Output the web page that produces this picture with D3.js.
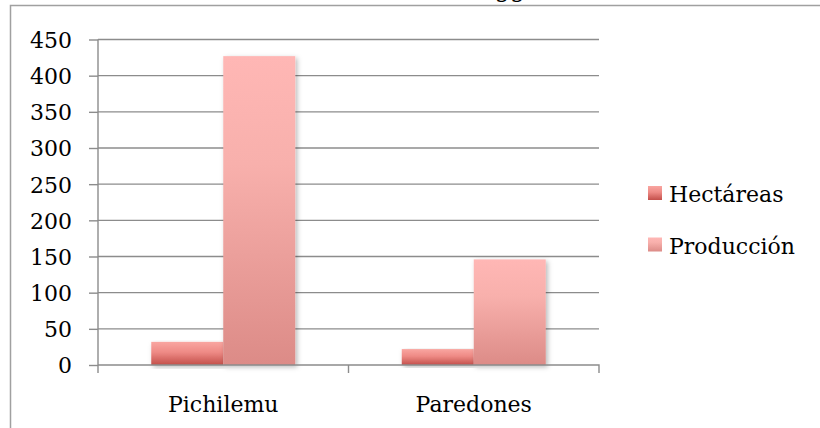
<!DOCTYPE html>
<html>
<head>
<meta charset="utf-8">
<script src="https://cdn.jsdelivr.net/npm/d3@7"></script>
<style>
  html, body { margin: 0; padding: 0; background: #fff; }
  svg { display: block; }
  text { font-family: "DejaVu Serif", serif; fill: #000; }
</style>
</head>
<body>
<svg id="chart" width="820" height="428"></svg>
<script>
// ---- data ----
const categories = ["Pichilemu", "Paredones"];
const seriesNames = ["Hectáreas", "Producción"];
const hectareas = [32, 22];
const produccion = [427, 146];
const yTicks = [0, 50, 100, 150, 200, 250, 300, 350, 400, 450];
const titleVisible = "gg";

const svg = d3.select("#chart");
const W = 820, H = 428;
const plot = { left: 98, right: 599, top: 39.5, bottom: 365 };

// defs: gradients + shadow
const defs = svg.append("defs");
const g1 = defs.append("linearGradient").attr("id", "gradH").attr("x1", 0).attr("y1", 0).attr("x2", 0).attr("y2", 1);
g1.append("stop").attr("offset", "0%").attr("stop-color", "#f9a6a1");
g1.append("stop").attr("offset", "45%").attr("stop-color", "#ee8a85");
g1.append("stop").attr("offset", "100%").attr("stop-color", "#c34f4a");
const g2 = defs.append("linearGradient").attr("id", "gradP").attr("x1", 0).attr("y1", 0).attr("x2", 0).attr("y2", 1);
g2.append("stop").attr("offset", "0%").attr("stop-color", "#ffb7b5");
g2.append("stop").attr("offset", "35%").attr("stop-color", "#f8b0ac");
g2.append("stop").attr("offset", "100%").attr("stop-color", "#dc8b87");
const f = defs.append("filter").attr("id", "shadow").attr("x", "-20%").attr("y", "-5%").attr("width", "140%").attr("height", "120%");
f.append("feDropShadow").attr("dx", 2).attr("dy", 2).attr("stdDeviation", 2.5).attr("flood-color", "#000").attr("flood-opacity", 0.28);

// border of chart area
svg.append("path")
  .attr("d", `M10.5,${H + 2} L10.5,5.5 L${W + 2},5.5`)
  .attr("fill", "none").attr("stroke", "#a0a0a0").attr("stroke-width", 1.5);

// clipped title (only the descenders are visible in the reference)
svg.append("text").attr("x", 510).attr("y", -3)
  .attr("text-anchor", "middle").style("font-size", "24px").text(titleVisible);

// scales
const y = d3.scaleLinear().domain([0, 450]).range([plot.bottom, plot.top]);
const x0 = d3.scaleBand().domain(categories).range([plot.left, plot.right]).padding(0);
const bw = x0.bandwidth();
const x1 = d3.scaleBand().domain(seriesNames).range([bw * 0.2126, bw * 0.7874]).padding(0);

// gridlines
svg.append("g").selectAll("line").data(yTicks.filter(d => d > 0)).join("line")
  .attr("x1", plot.left).attr("x2", plot.right)
  .attr("y1", d => y(d)).attr("y2", d => y(d))
  .attr("stroke", "#8c8c8c").attr("stroke-width", 1.4);

// y axis
const yAxis = svg.append("g").attr("transform", `translate(${plot.left},0)`)
  .call(d3.axisLeft(y).tickValues(yTicks).tickSize(9).tickPadding(17).tickSizeOuter(0));
yAxis.select(".domain").attr("d", `M0,${plot.top}V${plot.bottom + 8}`).attr("stroke", "#8c8c8c").attr("stroke-width", 1.4);
yAxis.selectAll(".tick line").attr("stroke", "#8c8c8c").attr("stroke-width", 1.4);
yAxis.selectAll(".tick text").style("font-size", "22px").attr("fill", "#000").attr("dy", "0.36em");

// bars
const data = categories.map((c, i) => ({ cat: c, vals: [hectareas[i], produccion[i]] }));
const groups = svg.append("g").selectAll("g").data(data).join("g")
  .attr("transform", d => `translate(${x0(d.cat)},0)`);
groups.selectAll("rect").data(d => d.vals.map((v, j) => ({ s: seriesNames[j], v }))).join("rect")
  .attr("x", d => x1(d.s))
  .attr("width", x1.bandwidth())
  .attr("y", d => y(d.v))
  .attr("height", d => y(0) - y(d.v))
  .attr("fill", d => d.s === seriesNames[0] ? "url(#gradH)" : "url(#gradP)")
  .attr("filter", "url(#shadow)");

// x axis
const xAxis = svg.append("g").attr("transform", `translate(0,${plot.bottom})`)
  .call(d3.axisBottom(x0).tickSize(0).tickPadding(31));
xAxis.select(".domain").attr("d", `M${plot.left},0H${plot.right}V8`).attr("stroke", "#8c8c8c").attr("stroke-width", 1.4).attr("fill", "none");
xAxis.selectAll(".tick text").style("font-size", "22px").attr("fill", "#000");
// category separator ticks
svg.append("g").selectAll("line").data(categories.slice(1)).join("line")
  .attr("x1", d => x0(d)).attr("x2", d => x0(d))
  .attr("y1", plot.bottom).attr("y2", plot.bottom + 8)
  .attr("stroke", "#8c8c8c").attr("stroke-width", 1.4);

// legend
const legend = svg.append("g").attr("transform", "translate(648,186)");
const li = legend.selectAll("g").data(seriesNames).join("g")
  .attr("transform", (d, i) => `translate(0,${i * 51.5})`);
li.append("rect").attr("width", 14).attr("height", 14)
  .attr("fill", (d, i) => i === 0 ? "url(#gradH)" : "url(#gradP)");
li.append("text").attr("x", 21).attr("y", 16).style("font-size", "22px").text(d => d);
</script>
</body>
</html>
